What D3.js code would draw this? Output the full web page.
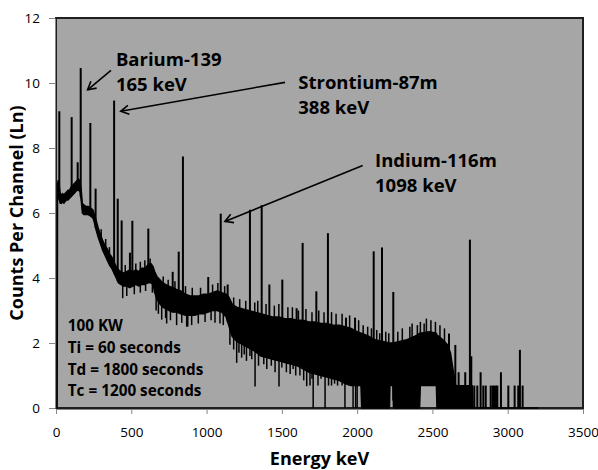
<!DOCTYPE html>
<html>
<head>
<meta charset="utf-8">
<script src="https://cdn.jsdelivr.net/npm/d3@7"></script>
<style>
  body { margin: 0; background: #fff; }
  text { font-family: "Open Sans", sans-serif; fill: #000; }
</style>
</head>
<body>
<div id="chart"></div>
<script>
// ---------------------------------------------------------------------------
// Data (energy in keV, counts as ln)

const xTicks = [0, 500, 1000, 1500, 2000, 2500, 3000, 3500];
const yTicks = [0, 2, 4, 6, 8, 10, 12];

// noise band of the continuum: [keV, lower edge, upper edge]
const continuum = [
  [8, 0, 0], [10.5, 6.5, 6.9], [14, 6.6, 7.0], [20, 6.45, 6.9], [28, 6.3, 6.6],
  [36, 6.3, 6.55], [44, 6.35, 6.6], [52, 6.3, 6.55], [60, 6.35, 6.6], [70, 6.4, 6.65],
  [80, 6.4, 6.7], [90, 6.45, 6.7], [100, 6.5, 6.8], [110, 6.55, 6.85], [120, 6.6, 6.9],
  [130, 6.65, 6.95], [140, 6.7, 7.0], [150, 6.7, 7.05], [160, 6.65, 6.95], [168, 6.35, 6.7],
  [175, 6.0, 6.3], [185, 5.95, 6.25], [200, 5.95, 6.2], [215, 5.95, 6.2], [230, 5.9, 6.15],
  [245, 5.85, 6.1], [255, 5.7, 5.95], [265, 5.5, 5.8], [280, 5.25, 5.55], [295, 5.05, 5.35],
  [310, 4.85, 5.15], [325, 4.7, 5.0], [340, 4.55, 4.9], [355, 4.4, 4.75], [370, 4.3, 4.65],
  [385, 4.15, 4.5], [400, 4.0, 4.35], [415, 3.85, 4.25], [430, 3.8, 4.2], [450, 3.75, 4.15],
  [470, 3.75, 4.2], [490, 3.7, 4.25], [510, 3.75, 4.2], [530, 3.8, 4.25], [550, 3.75, 4.2],
  [570, 3.8, 4.3], [590, 3.8, 4.3], [610, 3.85, 4.4], [630, 3.85, 4.45], [645, 3.8, 4.35],
  [655, 3.55, 4.2], [670, 3.35, 4.05], [690, 3.2, 3.95], [710, 3.1, 3.85], [730, 3.05, 3.8],
  [750, 3.0, 3.75], [775, 2.95, 3.7], [800, 2.95, 3.65], [830, 2.9, 3.6], [860, 2.85, 3.5],
  [890, 2.85, 3.45], [920, 2.85, 3.45], [950, 2.9, 3.45], [980, 2.9, 3.5], [1010, 2.95, 3.5],
  [1040, 3.0, 3.55], [1070, 3.0, 3.6], [1100, 2.95, 3.55], [1130, 2.8, 3.5], [1150, 2.5, 3.4],
  [1170, 2.2, 3.2], [1200, 2.05, 3.1], [1240, 1.95, 3.05], [1280, 1.85, 3.0], [1320, 1.75, 2.95],
  [1360, 1.6, 2.9], [1400, 1.55, 2.85], [1440, 1.5, 2.8], [1480, 1.45, 2.8], [1520, 1.4, 2.75],
  [1560, 1.35, 2.75], [1600, 1.3, 2.7], [1640, 1.2, 2.7], [1680, 1.1, 2.65], [1720, 1.05, 2.65],
  [1760, 1.0, 2.6], [1800, 0.95, 2.6], [1840, 0.9, 2.55], [1880, 0.85, 2.55], [1920, 0.75, 2.5],
  [1960, 0.69, 2.45], [2000, 0.69, 2.35], [2025, 0.69, 2.3], [2030, 0, 2.3], [2080, 0, 2.2],
  [2120, 0, 2.1], [2170, 0, 2.05], [2215, 0, 2.0], [2218, 0.69, 2.0], [2238, 0.69, 2.0],
  [2241, 0, 2.0], [2280, 0, 2.05], [2330, 0, 2.1], [2380, 0, 2.2], [2415, 0, 2.3],
  [2420, 0.69, 2.3], [2480, 0.69, 2.35], [2526, 0.69, 2.3], [2530, 0, 2.25], [2570, 0, 2.1],
  [2600, 0, 1.95], [2620, 0, 1.7], [2640, 0, 1.1], [2655, 0, 0.69], [2765, 0, 0.69],
  [2770, 0, 0], [3200, 0, 0]
];

// gamma lines rising out of the band: [keV, top]
const peaks = [
  [22, 9.13], [104, 8.95], [144, 7.56], [164, 10.46], [228, 8.77], [263, 6.75],
  [386, 9.46], [410, 6.44], [436, 5.77], [491, 4.78], [507, 5.76], [613, 5.52],
  [775, 4.19], [815, 4.81], [843, 7.74], [1011, 4.03], [1094, 5.98], [1140, 3.8],
  [1288, 6.1], [1366, 6.24], [1417, 3.8], [1503, 3.95], [1598, 3.07], [1638, 5.08],
  [1729, 3.59], [1806, 5.38], [1926, 2.78], [1986, 2.78], [2110, 4.82], [2165, 4.94],
  [2240, 3.57], [2610, 2.29], [2652, 1.94], [2674, 1.1], [2718, 1.1], [2749, 5.18],
  [2758, 1.59], [2778, 0.69], [2798, 0.69], [2820, 1.1], [2838, 0.69], [2854, 0.69],
  [2887, 0.69], [2900, 0.69], [2909, 0.69], [2922, 0.69], [2931, 0.69], [2955, 1.1],
  [3004, 0.69], [3046, 0.69], [3070, 0.69], [3081, 1.79], [3099, 0.69]
];

// short noise channels poking above the band: [keV, top]
const noiseUp = [
  [300, 5.5], [330, 5.2], [355, 4.95], [460, 4.4], [530, 4.45], [560, 4.5], [590, 4.55],
  [625, 4.6], [712, 4.05], [745, 3.95], [790, 3.9], [860, 3.75], [905, 3.7], [960, 3.7],
  [1040, 3.8], [1075, 3.85], [1120, 3.75], [1180, 3.4], [1220, 3.35], [1260, 3.3],
  [1320, 3.25], [1340, 3.3], [1395, 3.2], [1450, 3.15], [1480, 3.2], [1540, 3.1],
  [1570, 3.1], [1610, 3.0], [1660, 3.05], [1700, 2.95], [1745, 3.0], [1780, 2.95],
  [1830, 2.95], [1860, 2.9], [1900, 2.9], [1950, 2.85], [2010, 2.7], [2040, 2.55],
  [2070, 2.5], [2095, 2.45], [2130, 2.4], [2150, 2.3], [2190, 2.35], [2210, 2.3],
  [2270, 2.35], [2300, 2.45], [2350, 2.5], [2365, 2.6], [2400, 2.55], [2420, 2.65],
  [2445, 2.6], [2460, 2.75], [2490, 2.7], [2520, 2.65], [2550, 2.55], [2580, 2.45]
];

// single channels dropping below the band: [keV, bottom]
const dips = [
  [443, 3.38], [470, 3.45], [520, 3.5], [560, 3.55], [595, 3.6], [640, 3.55], [665, 3.0],
  [680, 2.9], [702, 2.72], [728, 2.77], [735, 2.6], [760, 2.7], [801, 2.55], [835, 2.62],
  [868, 2.5], [875, 2.51], [901, 2.55], [945, 2.6], [990, 2.65], [1030, 2.7], [1056, 2.62],
  [1089, 2.6], [1111, 2.55], [1155, 1.95], [1180, 1.8], [1200, 1.39], [1215, 1.7],
  [1233, 1.55], [1250, 1.65], [1265, 1.45], [1288, 1.6], [1300, 1.5], [1322, 0.66],
  [1345, 1.3], [1380, 1.35], [1400, 1.2], [1430, 1.3], [1455, 1.1], [1481, 0.66],
  [1500, 1.25], [1530, 1.1], [1555, 1.05], [1575, 1.2], [1592, 1.0], [1620, 1.0],
  [1645, 0.85], [1665, 0.67], [1687, 0.69], [1700, 0.9], [1708, 0], [1740, 0.69],
  [1760, 0.9], [1787, 0], [1810, 0.69], [1830, 0.69], [1850, 0.75], [1870, 0.69],
  [1900, 0.69], [1919, 0], [1945, 0.69], [1973, 0], [1990, 0], [2000, 0]
];

// isotope labels: text lines, text anchor [keV, ln], arrow from / to [keV, ln]
const labels = [
  { lines: ['Barium-139', '165 keV'], at: [398, 10.51], from: [365, 10.39], to: [210, 9.79] },
  { lines: ['Strontium-87m', '388 keV'], at: [1609, 9.82], from: [1521, 10.02], to: [430, 9.13] },
  { lines: ['Indium-116m', '1098 keV'], at: [2119, 7.43], from: [2037, 7.46], to: [1122, 5.74] }
];

const runInfo = ['100 KW', 'Ti = 60 seconds', 'Td = 1800 seconds', 'Tc = 1200 seconds'];

// ---------------------------------------------------------------------------
// Layout

const width = 598;
const height = 470;
const margin = { top: 18, right: 15, bottom: 62, left: 56 };

const x = d3.scaleLinear()
  .domain([0, 3500])
  .range([margin.left, width - margin.right]);

const y = d3.scaleLinear()
  .domain([0, 12])
  .range([height - margin.bottom, margin.top]);

// lower / upper edge of the band at any energy, for the spikes
const bandLow = d3.scaleLinear()
  .domain(continuum.map(d => d[0]))
  .range(continuum.map(d => d[1]))
  .clamp(true);

const bandHigh = d3.scaleLinear()
  .domain(continuum.map(d => d[0]))
  .range(continuum.map(d => d[2]))
  .clamp(true);

const svg = d3.select('#chart')
  .append('svg')
  .attr('width', width)
  .attr('height', height);

svg.append('defs').append('marker')
  .attr('id', 'open-arrow')
  .attr('viewBox', '-10 -6 12 12')
  .attr('refX', 0)
  .attr('refY', 0)
  .attr('markerWidth', 12)
  .attr('markerHeight', 12)
  .attr('markerUnits', 'userSpaceOnUse')
  .attr('orient', 'auto')
  .append('path')
  .attr('d', 'M-8,-4.5 L0,0 L-8,4.5')
  .attr('fill', 'none')
  .attr('stroke', '#000')
  .attr('stroke-width', 1.6);

// plot area
svg.append('rect')
  .attr('x', x(0))
  .attr('y', y(12))
  .attr('width', x(3500) - x(0))
  .attr('height', y(0) - y(12))
  .attr('fill', '#a6a6a6')
  .attr('stroke', '#1e1e1e')
  .attr('stroke-width', 2);

// axes
const yAxis = svg.append('g')
  .attr('transform', `translate(${x(0) - 1},0)`)
  .call(d3.axisLeft(y).tickValues(yTicks).tickFormat(d3.format('d'))
    .tickSize(6).tickPadding(9).tickSizeOuter(0));

const xAxis = svg.append('g')
  .attr('transform', `translate(0,${y(0) + 1})`)
  .call(d3.axisBottom(x).tickValues(xTicks).tickFormat(d3.format('d'))
    .tickSize(5).tickPadding(13).tickSizeOuter(0));

[xAxis, yAxis].forEach(function(g) {
  g.selectAll('path, line').attr('stroke', '#868686');
  g.selectAll('text')
    .attr('fill', '#000')
    .style('font-family', '"Open Sans", sans-serif')
    .style('font-size', '13.5px');
});

// spectrum
const plot = svg.append('g');

plot.append('path')
  .datum(continuum)
  .attr('fill', '#000')
  .attr('stroke', '#000')
  .attr('stroke-width', 1.4)
  .attr('stroke-linejoin', 'round')
  .attr('d', d3.area()
    .x(d => x(d[0]))
    .y0(d => y(d[1]))
    .y1(d => y(d[2])));

plot.selectAll('line.noise')
  .data(noiseUp)
  .enter()
  .append('line')
  .attr('class', 'noise')
  .attr('x1', d => x(d[0]))
  .attr('x2', d => x(d[0]))
  .attr('y1', d => y(bandHigh(d[0])) + 2)
  .attr('y2', d => y(d[1]))
  .attr('stroke', '#000')
  .attr('stroke-width', 1.5);

plot.selectAll('line.peak')
  .data(peaks)
  .enter()
  .append('line')
  .attr('class', 'peak')
  .attr('x1', d => x(d[0]))
  .attr('x2', d => x(d[0]))
  .attr('y1', d => y(bandLow(d[0])))
  .attr('y2', d => y(d[1]))
  .attr('stroke', '#000')
  .attr('stroke-width', 2);

plot.selectAll('line.dip')
  .data(dips)
  .enter()
  .append('line')
  .attr('class', 'dip')
  .attr('x1', d => x(d[0]))
  .attr('x2', d => x(d[0]))
  .attr('y1', d => y(bandLow(d[0])) - 2)
  .attr('y2', d => y(d[1]))
  .attr('stroke', '#000')
  .attr('stroke-width', 1.5);

// isotope annotations
const note = svg.selectAll('g.note')
  .data(labels)
  .enter()
  .append('g')
  .attr('class', 'note');

note.append('line')
  .attr('x1', d => x(d.from[0]))
  .attr('y1', d => y(d.from[1]))
  .attr('x2', d => x(d.to[0]))
  .attr('y2', d => y(d.to[1]))
  .attr('stroke', '#000')
  .attr('stroke-width', 1.6)
  .attr('marker-end', 'url(#open-arrow)');

note.append('text')
  .attr('x', d => x(d.at[0]))
  .attr('y', d => y(d.at[1]))
  .style('font-size', '18.5px')
  .style('font-weight', 'bold')
  .selectAll('tspan')
  .data(d => d.lines)
  .enter()
  .append('tspan')
  .attr('x', function() { return this.parentNode.getAttribute('x'); })
  .attr('dy', (d, i) => i === 0 ? 0 : 25)
  .text(d => d);

// run conditions
svg.append('text')
  .attr('x', x(78))
  .attr('y', y(2.36))
  .style('font-size', '15.3px')
  .style('font-weight', 'bold')
  .selectAll('tspan')
  .data(runInfo)
  .enter()
  .append('tspan')
  .attr('x', x(78))
  .attr('dy', (d, i) => i === 0 ? 0 : 21.7)
  .text(d => d);

// axis titles
svg.append('text')
  .attr('x', (x(0) + x(3500)) / 2)
  .attr('y', 465)
  .attr('text-anchor', 'middle')
  .style('font-size', '18px')
  .style('font-weight', 'bold')
  .text('Energy keV');

svg.append('text')
  .attr('transform', `translate(23,${(y(0) + y(12)) / 2}) rotate(-90)`)
  .attr('text-anchor', 'middle')
  .style('font-size', '18px')
  .style('font-weight', 'bold')
  .text('Counts Per Channel (Ln)');
</script>
</body>
</html>
